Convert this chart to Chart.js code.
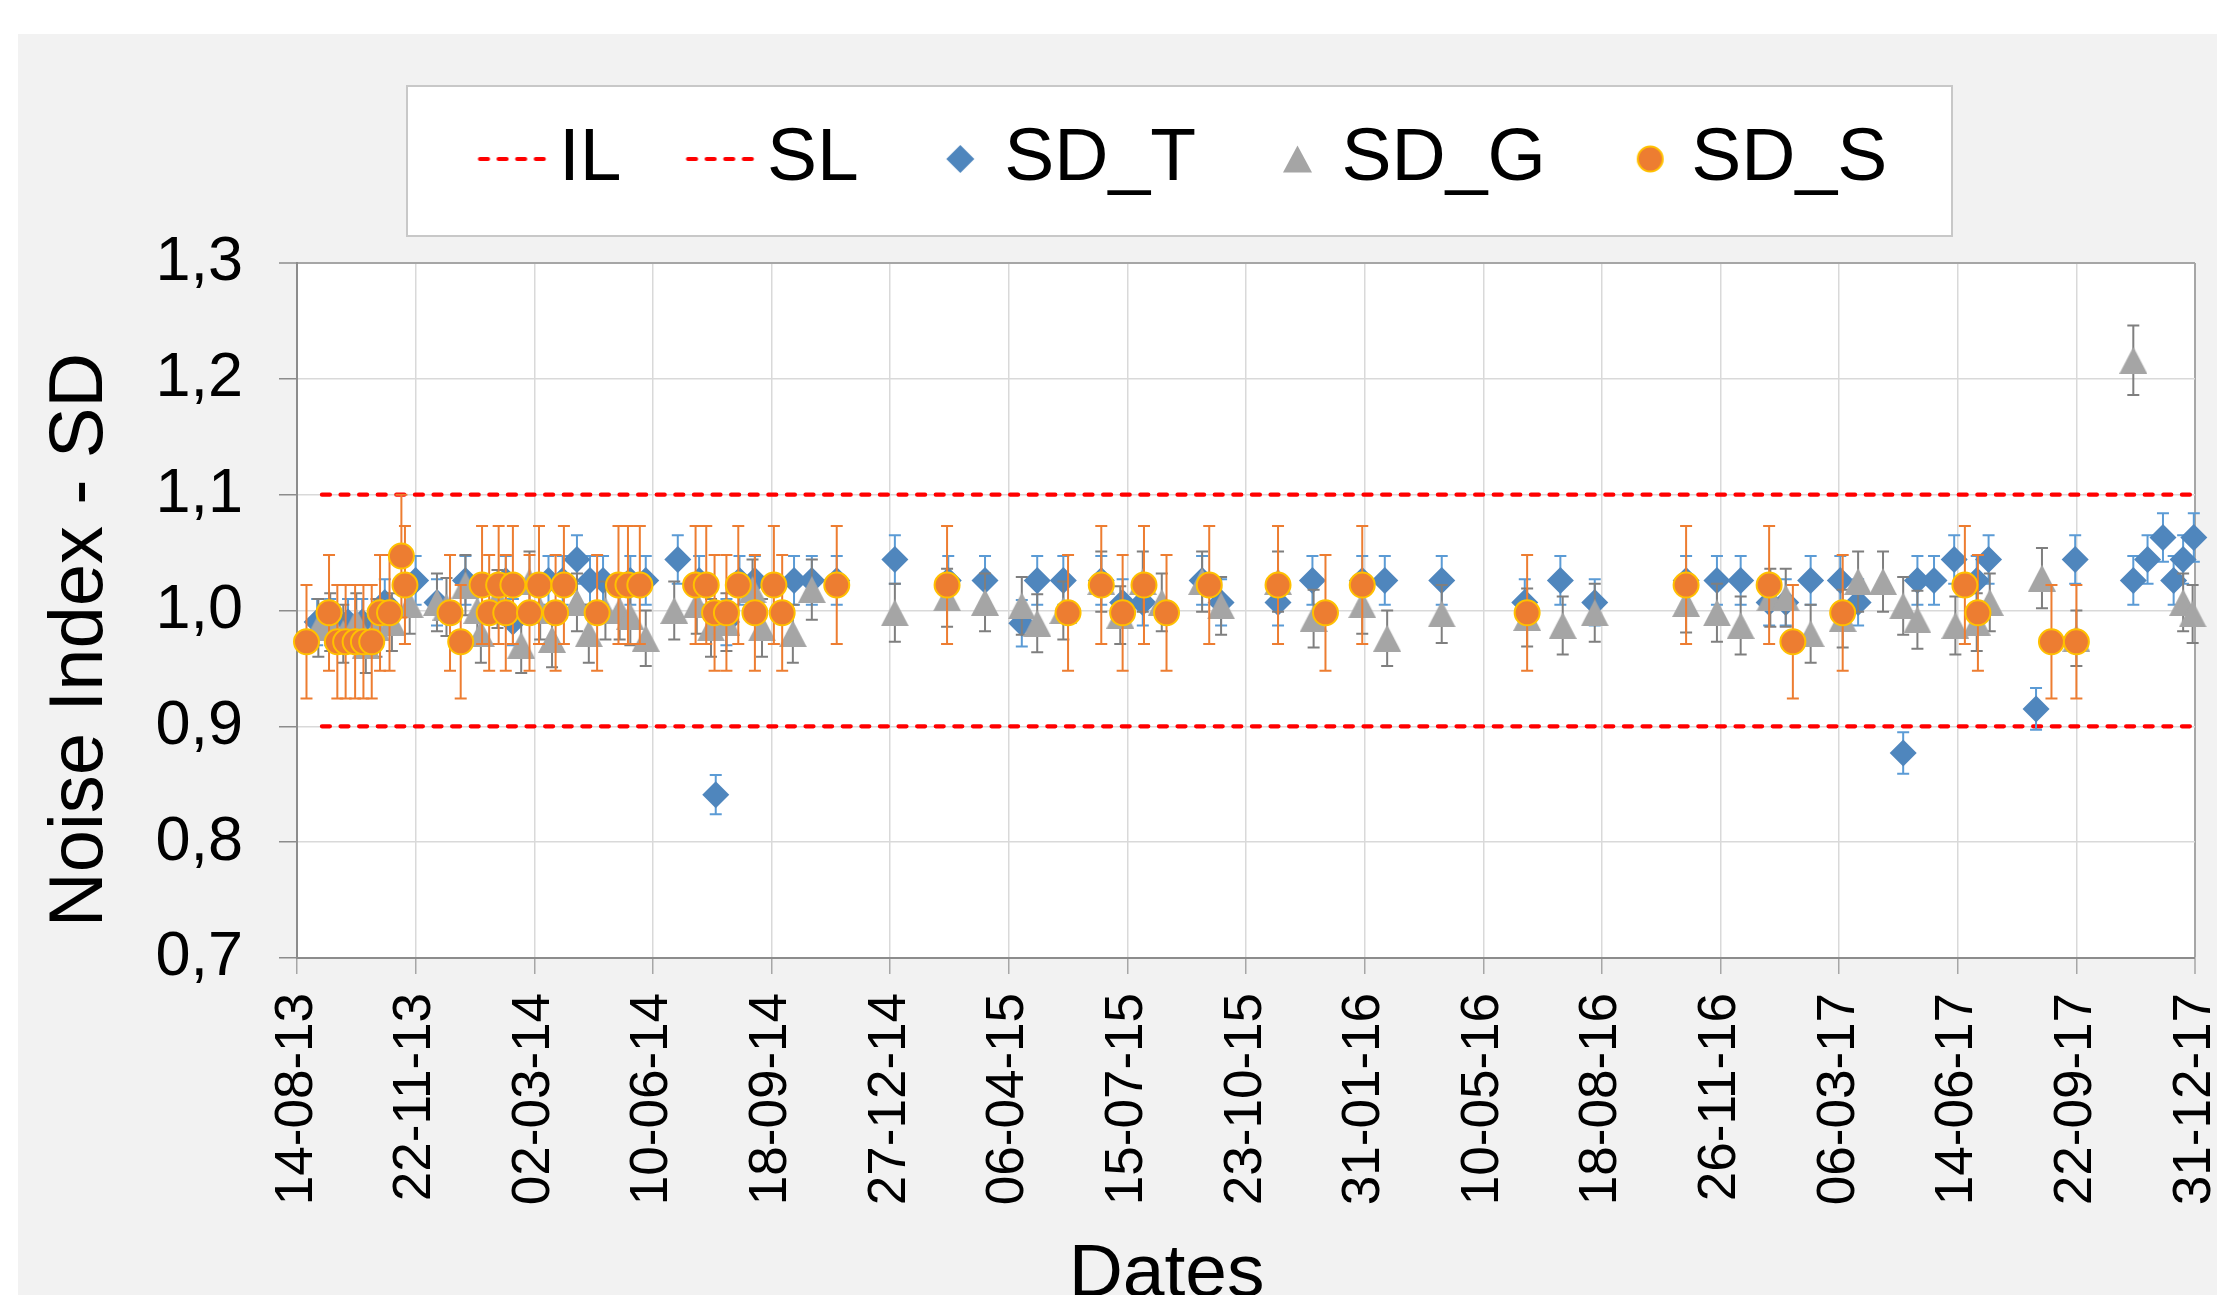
<!DOCTYPE html>
<html><head><meta charset="utf-8">
<script src="https://cdn.jsdelivr.net/npm/chart.js@4.4.1/dist/chart.umd.min.js"></script>
<style>
html,body{margin:0;padding:0;background:#fff;width:2217px;height:1295px;overflow:hidden}
#wrap{position:absolute;left:18px;top:34px;width:2199px;height:1261px;background:#f2f2f2}
canvas{display:block}
</style></head><body>
<div id="wrap"><canvas id="c" width="2199" height="1261" style="width:2199px;height:1261px"></canvas></div>
<script>
// ---------- DATA (x = days since 14-08-2013) ----------
const xTickLabels = ['14-08-13','22-11-13','02-03-14','10-06-14','18-09-14','27-12-14','06-04-15','15-07-15','23-10-15','31-01-16','10-05-16','18-08-16','26-11-16','06-03-17','14-06-17','22-09-17','31-12-17'];
const yTickLabels = ['0,7','0,8','0,9','1,0','1,1','1,2','1,3'];
const seriesNames = ['IL','SL','SD_T','SD_G','SD_S'];

const limitDays = [21, 1600];
const ilValues = [1.1, 1.1];
const slValues = [0.9, 0.9];

const sdTDays = [17,28,43,55,74,100,118,142,176,182,212,224,236,247,258,281,294,321,339,353,362,373,386,419,434,455,504,549,580,611,624,646,678,696,713,763,779,827,856,898,917,965,1035,1065,1094,1171,1197,1217,1241,1255,1276,1301,1316,1354,1366,1380,1397,1416,1426,1466,1499,1548,1560,1573,1582,1590,1599];
const sdTValues = [0.99,0.99,0.99,0.99,1.007,1.026,1.007,1.026,1.026,0.99,1.026,1.026,1.044,1.026,1.026,1.026,1.026,1.044,1.026,0.841,0.99,1.026,1.026,1.026,1.026,1.026,1.044,1.026,1.026,0.989,1.026,1.026,1.026,1.007,1.007,1.026,1.007,1.007,1.026,1.026,1.026,1.026,1.007,1.026,1.007,1.026,1.026,1.026,1.007,1.007,1.026,1.026,1.007,0.877,1.026,1.026,1.044,1.026,1.044,0.915,1.044,1.026,1.044,1.063,1.026,1.044,1.063];
const sdTErrors = [0.020,0.020,0.020,0.020,0.020,0.021,0.020,0.021,0.021,0.020,0.021,0.021,0.021,0.021,0.021,0.021,0.021,0.021,0.021,0.017,0.020,0.021,0.021,0.021,0.021,0.021,0.021,0.021,0.021,0.020,0.021,0.021,0.021,0.020,0.020,0.021,0.020,0.020,0.021,0.021,0.021,0.021,0.020,0.021,0.020,0.021,0.021,0.021,0.020,0.020,0.021,0.021,0.020,0.018,0.021,0.021,0.021,0.021,0.021,0.018,0.021,0.021,0.021,0.021,0.021,0.021,0.021];

const sdGDays = [18,28,39,50,58,67,80,95,118,126,142,152,155,169,189,196,205,215,236,246,260,272,281,294,318,337,349,362,384,392,418,434,504,548,580,611,624,646,678,694,713,729,763,779,827,857,898,919,965,1037,1067,1094,1171,1197,1217,1242,1255,1276,1303,1316,1337,1354,1366,1398,1416,1427,1471,1500,1548,1590,1598];
const sdGValues = [0.985,0.99,0.98,0.99,0.97,0.985,0.99,1.005,1.007,1.003,1.022,1.0,0.98,1.01,0.97,1.025,1.0,0.975,1.007,0.98,1.0,1.0,0.995,0.976,1.0,1.005,0.985,0.99,1.018,0.985,0.98,1.018,0.998,1.011,1.007,1.004,0.989,1.0,1.025,0.996,1.025,1.007,1.025,1.004,1.025,0.993,1.005,0.976,0.997,0.994,0.987,0.998,1.006,0.998,0.987,1.011,1.011,0.98,0.993,1.025,1.025,1.004,0.992,0.987,0.99,1.007,1.028,0.976,1.216,1.007,0.997];
const sdGErrors = [0.025,0.025,0.025,0.025,0.024,0.025,0.025,0.025,0.025,0.025,0.026,0.025,0.025,0.025,0.024,0.026,0.025,0.024,0.025,0.025,0.025,0.025,0.025,0.024,0.025,0.025,0.025,0.025,0.026,0.025,0.025,0.026,0.025,0.025,0.025,0.025,0.025,0.025,0.026,0.025,0.026,0.025,0.026,0.025,0.026,0.025,0.025,0.024,0.025,0.025,0.025,0.025,0.025,0.025,0.025,0.025,0.025,0.025,0.025,0.026,0.026,0.025,0.025,0.025,0.025,0.025,0.026,0.024,0.030,0.025,0.025];

const sdSDays = [8,27,34,41,49,56,63,70,78,88,91,129,138,156,162,170,176,182,196,204,218,225,253,271,279,289,336,345,352,362,372,386,402,409,455,548,650,678,696,714,733,769,827,867,898,1037,1171,1241,1261,1303,1406,1417,1479,1500];
const sdSValues = [0.973,0.998,0.973,0.973,0.973,0.973,0.973,0.998,0.998,1.047,1.022,0.998,0.973,1.022,0.998,1.022,0.998,1.022,0.998,1.022,0.998,1.022,0.998,1.022,1.022,1.022,1.022,1.022,0.998,0.998,1.022,0.998,1.022,0.998,1.022,1.022,0.998,1.022,0.998,1.022,0.998,1.022,1.022,0.998,1.022,0.998,1.022,1.022,0.973,0.998,1.022,0.998,0.973,0.973];
const sdSErrors = [0.049,0.050,0.049,0.049,0.049,0.049,0.049,0.050,0.050,0.053,0.051,0.050,0.049,0.051,0.050,0.051,0.050,0.051,0.050,0.051,0.050,0.051,0.050,0.051,0.051,0.051,0.051,0.051,0.050,0.050,0.051,0.050,0.051,0.050,0.051,0.051,0.050,0.051,0.050,0.051,0.050,0.051,0.051,0.050,0.051,0.050,0.051,0.051,0.049,0.050,0.051,0.050,0.049,0.049];

// ---------- STYLE ----------
const FONT = "'Liberation Sans', Arial, sans-serif";
const RED = '#ff0000', BLUE = '#4f86bd', BLUE_ERR = '#5b9bd5', GREY = '#a5a5a5', GREY_ERR = '#7f7f7f', ORANGE = '#ed7d31', GOLD = '#ffc000';
const DASH = [8, 10.6];
const LIMIT_W = 4.2;

function mk(w, h, draw) { const c = document.createElement('canvas'); c.width = w; c.height = h; draw(c.getContext('2d')); return c; }
const triMarker = mk(28, 27, g => { g.fillStyle = GREY; g.beginPath(); g.moveTo(14, 0); g.lineTo(28, 27); g.lineTo(0, 27); g.closePath(); g.fill(); });
const lgLine = mk(130, 8, g => { g.strokeStyle = RED; g.lineWidth = LIMIT_W; g.lineCap = 'round'; g.setLineDash(DASH); g.beginPath(); g.moveTo(60.5, 4); g.lineTo(128, 4); g.stroke(); });
const lgDiamond = mk(130, 30, g => { g.fillStyle = BLUE; g.beginPath(); g.moveTo(81.5, 15); g.lineTo(95.5, 1); g.lineTo(109.5, 15); g.lineTo(95.5, 29); g.closePath(); g.fill(); });
const lgTri = mk(130, 28, g => { g.fillStyle = GREY; g.beginPath(); g.moveTo(95.5, 0.5); g.lineTo(110, 27.5); g.lineTo(81, 27.5); g.closePath(); g.fill(); });
const lgCircle = mk(130, 30, g => { g.fillStyle = ORANGE; g.strokeStyle = GOLD; g.lineWidth = 2; g.beginPath(); g.arc(98.5, 15, 12.5, 0, Math.PI * 2); g.fill(); g.stroke(); });
const legendImages = [lgLine, lgLine, lgDiamond, lgTri, lgCircle];

const pts = (xs, ys) => xs.map((x, i) => ({x: x, y: ys[i]}));

const errorBars = {
  id: 'errorBars',
  beforeDatasetDraw(chart, args) {
    const ds = chart.data.datasets[args.index];
    if (!ds.errors) return;
    const ctx = chart.ctx, xs = chart.scales.x, ys = chart.scales.y, cap = 6;
    ctx.save();
    ctx.strokeStyle = ds.errorColor; ctx.lineWidth = 2; ctx.setLineDash([]);
    ds.data.forEach((p, i) => {
      const x = xs.getPixelForValue(p.x);
      const y1 = ys.getPixelForValue(p.y + ds.errors[i]);
      const y2 = ys.getPixelForValue(p.y - ds.errors[i]);
      ctx.beginPath();
      ctx.moveTo(x, y1); ctx.lineTo(x, y2);
      ctx.moveTo(x - cap, y1); ctx.lineTo(x + cap, y1);
      ctx.moveTo(x - cap, y2); ctx.lineTo(x + cap, y2);
      ctx.stroke();
    });
    ctx.restore();
  }
};

const frame = {
  id: 'frame',
  afterLayout(chart) {
    if (chart.legend) { chart.legend.left = 395.5; chart.legend.right = chart.width; }
  },
  beforeDraw(chart) {
    const ctx = chart.ctx, a = chart.chartArea;
    ctx.save();
    ctx.fillStyle = '#ffffff';
    ctx.fillRect(a.left, a.top, a.right - a.left, a.bottom - a.top);
    ctx.fillRect(389, 52, 1545, 150);
    ctx.strokeStyle = '#c8c8c8'; ctx.lineWidth = 2;
    ctx.strokeRect(389, 52, 1545, 150);
    ctx.restore();
  },
  afterDraw(chart) {
    const ctx = chart.ctx;
    ctx.save();
    ctx.fillStyle = '#000';
    ctx.font = '75px ' + FONT;
    ctx.textAlign = 'center'; ctx.textBaseline = 'alphabetic';
    ctx.fillText('Dates', 1148.6, 1261.5);
    ctx.translate(63, 606); ctx.rotate(-Math.PI / 2);
    ctx.textBaseline = 'middle';
    ctx.font = '76px ' + FONT;
    ctx.fillText('Noise Index - SD', 0, 0);
    ctx.restore();
  }
};

Chart.defaults.font.family = FONT;
Chart.defaults.color = '#000';

new Chart(document.getElementById('c'), {
  type: 'scatter',
  data: {
    datasets: [
      {label: seriesNames[0], data: pts(limitDays, ilValues), showLine: true, pointRadius: 0, borderColor: RED, borderWidth: LIMIT_W, borderDash: DASH, borderCapStyle: 'round', order: 5},
      {label: seriesNames[1], data: pts(limitDays, slValues), showLine: true, pointRadius: 0, borderColor: RED, borderWidth: LIMIT_W, borderDash: DASH, borderCapStyle: 'round', order: 5},
      {label: seriesNames[2], data: pts(sdTDays, sdTValues), errors: sdTErrors, errorColor: BLUE_ERR, pointStyle: 'rectRot', pointRadius: 13.5, backgroundColor: BLUE, borderWidth: 0, clip: false, order: 3},
      {label: seriesNames[3], data: pts(sdGDays, sdGValues), errors: sdGErrors, errorColor: GREY_ERR, pointStyle: triMarker, pointRadius: 14, backgroundColor: GREY, borderWidth: 0, clip: false, order: 2},
      {label: seriesNames[4], data: pts(sdSDays, sdSValues), errors: sdSErrors, errorColor: ORANGE, pointStyle: 'circle', pointRadius: 12.5, backgroundColor: ORANGE, borderColor: GOLD, borderWidth: 2, clip: false, order: 1}
    ]
  },
  options: {
    responsive: false,
    animation: false,
    events: [],
    layout: {padding: {left: 0, right: 22, top: 53.5, bottom: 0}},
    plugins: {
      tooltip: {enabled: false},
      subtitle: {display: true, text: '', weight: 500, position: 'top', padding: 0, font: {size: 10, lineHeight: '56.5px'}},
      legend: {
        display: true, position: 'top', align: 'start',
        labels: {
          usePointStyle: true, pointStyleWidth: 74, padding: 34,
          font: {size: 75, family: FONT}, color: '#000',
          sort: (a, b) => a.datasetIndex - b.datasetIndex,
          generateLabels(chart) {
            const items = Chart.defaults.plugins.legend.labels.generateLabels(chart);
            items.forEach(it => { it.pointStyle = legendImages[it.datasetIndex]; });
            return items;
          }
        }
      }
    },
    scales: {
      x: {
        type: 'linear', min: 0, max: 1600,
        afterFit(s) { s.height = 337; s.paddingLeft = 0; s.paddingRight = 0; },
        ticks: {stepSize: 100, autoSkip: false, minRotation: 90, maxRotation: 90, padding: 19,
          font: {size: 53, family: FONT}, color: '#000',
          callback: (v, i) => xTickLabels[i]},
        grid: {color: c => (c.index === xTickLabels.length - 1 ? '#a6a6a6' : '#d9d9d9'), lineWidth: c => (c.index === xTickLabels.length - 1 ? 2 : 1.5), tickLength: 16, tickColor: '#a6a6a6', tickWidth: 1.5},
        border: {display: true, color: '#8c8c8c', width: 2}
      },
      y: {
        min: 0.7, max: 1.3,
        afterFit(s) { s.width = 279; s.paddingTop = 0; s.paddingBottom = 0; },
        ticks: {stepSize: 0.1, padding: 36, font: {size: 63, family: FONT}, color: '#000',
          callback: (v, i) => yTickLabels[i]},
        grid: {color: c => (c.index === yTickLabels.length - 1 ? '#a6a6a6' : '#d9d9d9'), lineWidth: c => (c.index === yTickLabels.length - 1 ? 2 : 1.5), tickLength: 18, tickColor: '#8c8c8c', tickWidth: 1.5},
        border: {display: true, color: '#8c8c8c', width: 2}
      }
    }
  },
  plugins: [errorBars, frame]
});
</script></body></html>
